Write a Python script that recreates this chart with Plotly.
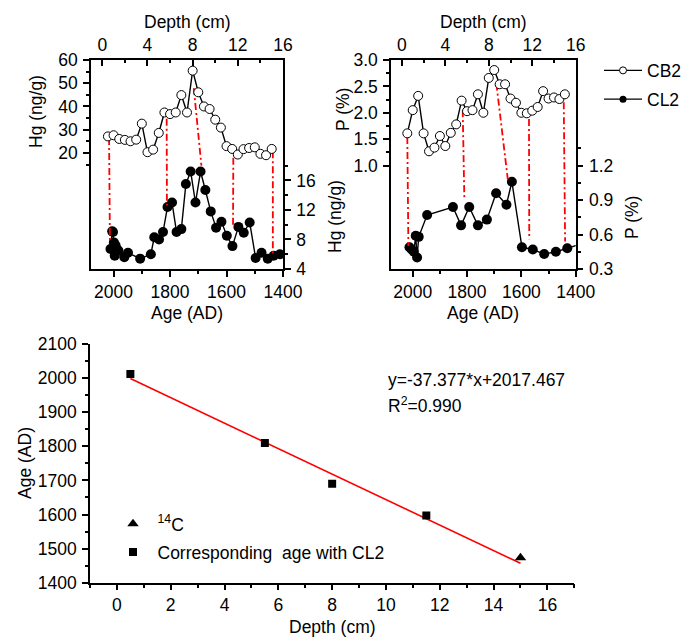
import plotly.graph_objects as go

W, H = 696, 637
OFF = 8  # page body margin compensation
FONT = "Liberation Sans, Arial, sans-serif"
FS = 17.5

# ---------------- data ----------------
cb2_depth = [0.5, 1.0, 1.5, 2.0, 2.5, 3.0, 3.5, 4.0, 4.5, 5.0, 5.5, 6.0, 6.5, 7.0, 7.5,
             8.0, 8.5, 9.0, 9.5, 10.0, 10.5, 11.0, 11.5, 12.0, 12.5, 13.0, 13.5, 14.0, 14.5, 15.0]
cb2_hg = [27.1, 27.6, 26.0, 25.6, 25.0, 25.7, 32.6, 20.3, 21.4, 28.6, 37.4, 36.7, 37.4, 44.9, 37.4,
          55.4, 46.1, 40.0, 38.9, 34.3, 30.9, 22.9, 21.7, 19.3, 21.6, 22.1, 22.4, 19.6, 19.0, 21.7]
cb2_p = [1.61, 2.05, 2.32, 1.61, 1.27, 1.34, 1.56, 1.37, 1.62, 1.78, 2.23, 2.03, 2.05, 2.35, 2.00,
         2.66, 2.81, 2.54, 2.54, 2.27, 2.19, 2.00, 1.99, 2.04, 2.11, 2.41, 2.27, 2.29, 2.26, 2.35]

cl2_hg_age = [2011, 2005, 2002, 1999, 1996, 1993, 1989, 1983, 1962, 1949, 1906, 1868, 1856, 1839,
              1825, 1809, 1793, 1777, 1760, 1744, 1727, 1710, 1692, 1675, 1656, 1637, 1618, 1599,
              1579, 1558, 1539, 1518, 1497, 1476, 1454, 1433, 1411]
cl2_hg = [6.7, 9.1, 9.0, 7.6, 5.8, 7.2, 6.7, 6.5, 5.6, 6.2, 5.4, 6.0, 8.3, 8.0,
          9.0, 12.4, 13.0, 9.0, 9.4, 15.5, 17.2, 13.0, 17.2, 14.7, 11.8, 9.6, 10.4, 8.5,
          7.1, 9.7, 8.9, 10.3, 5.5, 6.2, 5.4, 5.8, 6.0]

cl2_p_age = [2012, 2004, 1996, 1989, 1984, 1978, 1947, 1852, 1822, 1792, 1760, 1727, 1693,
             1655, 1635, 1598, 1558, 1516, 1473, 1431, 1380]
cl2_p = [0.49, 0.47, 0.45, 0.59, 0.40, 0.58, 0.77, 0.84, 0.68, 0.84, 0.68, 0.73, 0.96,
         0.86, 1.06, 0.49, 0.47, 0.43, 0.45, 0.48, 0.52]

# tie lines (CB2 depth/value -> CL2 age/value)
tie_hg_depth = [0.6, 5.7, 8.1, 11.6, 15.1]
tie_hg_cb2 = [26.4, 34.7, 47.9, 17.9, 20.7]
tie_hg_age = [2013, 1811, 1689, 1577, 1436]
tie_hg_cl2 = [7.7, 12.6, 18.0, 9.7, 6.1]

tie_p_depth = [0.5, 5.6, 8.7, 11.7, 14.9]
tie_p_cb2 = [1.54, 2.05, 2.55, 1.88, 2.20]
tie_p_age = [2016, 1810, 1650, 1571, 1439]
tie_p_cl2 = [0.50, 0.91, 1.08, 0.56, 0.54]

# age-depth model
corr_depth = [0.5, 5.5, 8.0, 11.5]
corr_age = [2012, 1810, 1690, 1597]
c14_depth = [15.0]
c14_age = [1473]
fit_slope = -37.377
fit_intercept = 2017.467
fit_r2 = 0.990

# ---------------- axis ranges ----------------
AGE_RNG = [2080, 1400]
DEPTH_RNG = [-1, 16]
HG_L_RNG = [-30, 60]
HG_R_RNG = [4, 32.3]
P_L_RNG = [-0.96, 3.0]
P_R_RNG = [0.3, 2.12]


def lin(v, src, dst):
    f = (v - src[0]) / (src[1] - src[0])
    return dst[0] + f * (dst[1] - dst[0])


def tie_xy(depths, tops, ages, bots, yr_r, yr_l):
    xs, ys = [], []
    for d, t, a, b in zip(depths, tops, ages, bots):
        xs += [d, lin(a, AGE_RNG, DEPTH_RNG), None]
        ys += [t, lin(b, yr_r, yr_l), None]
    return xs, ys


def dx(a, b):
    return [(a - OFF) / W, (b - OFF) / W]


def dy(top, bottom):
    return [(H - (bottom - OFF)) / H, (H - (top - OFF)) / H]


fig = go.Figure()
RED_DASH = "7px,3px,2px,3px"

# base subplots (empty) so overlay subplots are valid
fig.add_trace(go.Scatter(x=[None], y=[None], xaxis="x", yaxis="y", showlegend=False, hoverinfo="skip"))
fig.add_trace(go.Scatter(x=[None], y=[None], xaxis="x3", yaxis="y3", showlegend=False, hoverinfo="skip"))

# panel 1 ties
tx, ty = tie_xy(tie_hg_depth, tie_hg_cb2, tie_hg_age, tie_hg_cl2, HG_R_RNG, HG_L_RNG)
fig.add_trace(go.Scatter(x=tx, y=ty, xaxis="x2", yaxis="y", mode="lines",
                         line=dict(color="#ff0000", width=1.8, dash=RED_DASH),
                         showlegend=False, hoverinfo="skip"))
# panel 2 ties
tx, ty = tie_xy(tie_p_depth, tie_p_cb2, tie_p_age, tie_p_cl2, P_R_RNG, P_L_RNG)
fig.add_trace(go.Scatter(x=tx, y=ty, xaxis="x4", yaxis="y3", mode="lines",
                         line=dict(color="#ff0000", width=1.8, dash=RED_DASH),
                         showlegend=False, hoverinfo="skip"))

open_m = dict(symbol="circle", size=9, color="white", line=dict(color="black", width=1))
fill_m = dict(symbol="circle", size=10, color="black", line=dict(color="black", width=0))
LW = 1.4

fig.add_trace(go.Scatter(x=cb2_depth, y=cb2_hg, xaxis="x2", yaxis="y", mode="lines+markers",
                         line=dict(color="black", width=LW), marker=open_m, showlegend=False))
fig.add_trace(go.Scatter(x=cl2_hg_age, y=cl2_hg, xaxis="x", yaxis="y2", mode="lines+markers",
                         line=dict(color="black", width=LW), marker=fill_m, showlegend=False))
fig.add_trace(go.Scatter(x=cb2_depth, y=cb2_p, xaxis="x4", yaxis="y3", mode="lines+markers",
                         line=dict(color="black", width=LW), marker=open_m, showlegend=False))
fig.add_trace(go.Scatter(x=cl2_p_age, y=cl2_p, xaxis="x3", yaxis="y4", mode="lines+markers",
                         line=dict(color="black", width=LW), marker=fill_m, showlegend=False))

# legend entries (top)
fig.add_trace(go.Scatter(x=[None], y=[None], xaxis="x", yaxis="y", mode="lines+markers", name="CB2",
                         line=dict(color="black", width=LW), legendgroup="a", legend="legend",
                         marker=dict(symbol="circle", size=7, color="white", line=dict(color="black", width=1))))
fig.add_trace(go.Scatter(x=[None], y=[None], xaxis="x", yaxis="y", mode="lines+markers", name="CL2",
                         line=dict(color="black", width=LW), legendgroup="b", legend="legend",
                         marker=dict(symbol="circle", size=7, color="black")))

# panel 3
fit_x = [min(corr_depth + c14_depth), max(corr_depth + c14_depth)]
fit_y = [fit_slope * v + fit_intercept for v in fit_x]
fig.add_trace(go.Scatter(x=fit_x, y=fit_y, xaxis="x5", yaxis="y5", mode="lines",
                         line=dict(color="#ff0000", width=1.6), showlegend=False))
fig.add_trace(go.Scatter(x=c14_depth, y=c14_age, xaxis="x5", yaxis="y5", mode="markers",
                         name="<sup>14</sup>C", legend="legend2", legendgroup="c",
                         marker=dict(symbol="triangle-up", size=10, color="black")))
fig.add_trace(go.Scatter(x=corr_depth, y=corr_age, xaxis="x5", yaxis="y5", mode="markers",
                         name="Corresponding  age with CL2", legend="legend2", legendgroup="d",
                         marker=dict(symbol="square", size=8, color="black")))

ax_common = dict(showline=True, linecolor="black", linewidth=1.5, showgrid=False, zeroline=False,
                 ticks="outside", ticklen=6, tickwidth=1.5, tickcolor="black",
                 tickfont=dict(family=FONT, size=FS, color="black"), automargin=False)


def mk(**kw):
    d = dict(ax_common)
    minor = kw.pop("minor_vals", None)
    mticks = kw.pop("minor_ticks", "outside")
    d.update(kw)
    if minor is not None:
        d["minor"] = dict(tickvals=minor, ticks=mticks, ticklen=3.5, tickwidth=1.5, tickcolor="black")
    return d


P1X = dx(91, 283)
P2X = dx(391, 575.7)
PTY = dy(60, 269)

fig.update_layout(
    width=W, height=H, margin=dict(l=0, r=0, t=0, b=0),
    paper_bgcolor="white", plot_bgcolor="white",
    font=dict(family=FONT, size=FS, color="black"),
    # panel 1
    xaxis=mk(domain=P1X, anchor="y", range=AGE_RNG, tickvals=[2000, 1800, 1600, 1400],
             minor_vals=[1900, 1700, 1500]),
    xaxis2=mk(overlaying="x", side="top", anchor="y", range=DEPTH_RNG, tickvals=[0, 4, 8, 12, 16],
              ticks="inside", minor_vals=[2, 6, 10, 14], minor_ticks="inside"),
    yaxis=mk(domain=PTY, anchor="x", range=HG_L_RNG, tickvals=[20, 30, 40, 50, 60],
             minor_vals=[15, 25, 35, 45, 55], ticklabelstandoff=2),
    yaxis2=mk(overlaying="y", side="right", anchor="x", range=HG_R_RNG, tickvals=[4, 8, 12, 16],
              minor_vals=[6, 10, 14, 18], ticklabelstandoff=2),
    # panel 2
    xaxis3=mk(domain=P2X, anchor="y3", range=AGE_RNG, tickvals=[2000, 1800, 1600, 1400],
              minor_vals=[1900, 1700, 1500]),
    xaxis4=mk(overlaying="x3", side="top", anchor="y3", range=DEPTH_RNG, tickvals=[0, 4, 8, 12, 16],
              ticks="inside", minor_vals=[2, 6, 10, 14], minor_ticks="inside"),
    yaxis3=mk(domain=PTY, anchor="x3", range=P_L_RNG, tickvals=[1.0, 1.5, 2.0, 2.5, 3.0],
              tickformat=".1f", minor_vals=[1.25, 1.75, 2.25, 2.75], ticklabelstandoff=2),
    yaxis4=mk(overlaying="y3", side="right", anchor="x3", range=P_R_RNG, tickvals=[0.3, 0.6, 0.9, 1.2],
              tickformat=".1f", minor_vals=[0.45, 0.75, 1.05, 1.35], ticklabelstandoff=2),
    # panel 3
    xaxis5=mk(domain=dx(90, 574.3), anchor="y5", range=[-1, 17], tickvals=list(range(0, 17, 2)),
              minor_vals=list(range(-1, 18, 2))),
    yaxis5=mk(domain=dy(344, 582.7), anchor="x5", range=[1400, 2100],
              tickvals=list(range(1400, 2101, 100)), minor_vals=list(range(1450, 2100, 100)),
              ticklabelstandoff=2),
    legend=dict(x=(599 - OFF) / W, xanchor="left", y=(H - (52.5 - OFF)) / H, yanchor="top",
                bgcolor="rgba(0,0,0,0)",
                font=dict(family=FONT, size=FS, color="black"), itemwidth=38, tracegroupgap=3,
                traceorder="grouped"),
    legend2=dict(x=(108.5 - OFF) / W, xanchor="left", y=(H - (505.8 - OFF)) / H, yanchor="top",
                 bgcolor="rgba(0,0,0,0)",
                 font=dict(family=FONT, size=FS, color="black"), itemwidth=39, tracegroupgap=2.5,
                 traceorder="grouped"),
)


def ann(text, x, y, angle=0, xanchor="center"):
    fig.add_annotation(text=text, x=(x - OFF) / W, y=(H - (y - OFF)) / H, xref="paper", yref="paper",
                       showarrow=False, textangle=angle, xanchor=xanchor, yanchor="middle",
                       font=dict(family=FONT, size=FS, color="black"))


ann("Depth (cm)", 187, 22)
ann("Age (AD)", 187, 313)
ann("Hg (ng/g)", 36, 112, -90)
ann("Hg (ng/g)", 335, 217, -90)
ann("Depth (cm)", 483, 22)
ann("Age (AD)", 483, 313)
ann("P (%)", 343, 110, -90)
ann("P (%)", 632, 218, -90)
ann("Age (AD)", 25, 463, -90)
ann("Depth (cm)", 332, 627)
ann(f"y={fit_slope}*x+{fit_intercept}", 386, 380, xanchor="left")
ann(f"R<sup>2</sup>={fit_r2:.3f}", 386, 405, xanchor="left")

fig.write_html("out.html")
